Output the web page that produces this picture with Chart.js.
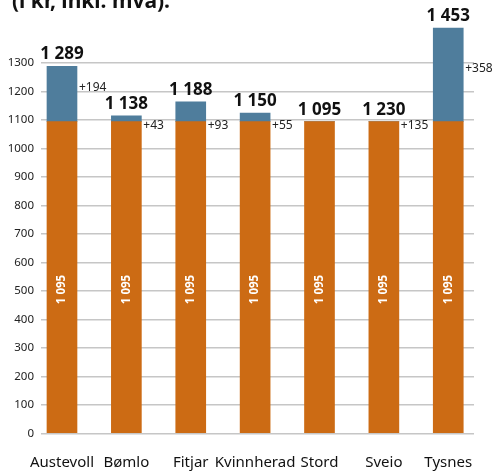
<!DOCTYPE html>
<html>
<head>
<meta charset="utf-8">
<script src="https://cdn.jsdelivr.net/npm/chart.js@4.4.1/dist/chart.umd.min.js"></script>
<style>
  html, body { margin: 0; padding: 0; background: #fff; }
  #wrap { position: relative; width: 492px; height: 471px; }
</style>
</head>
<body>
<div id="wrap"><canvas id="c" width="492" height="471"></canvas></div>
<script>
const categories = ['Austevoll', 'Bømlo', 'Fitjar', 'Kvinnherad', 'Stord', 'Sveio', 'Tysnes'];
const baseValues = [1095, 1095, 1095, 1095, 1095, 1095, 1095];
const extraBarValues = [194, 20, 69, 30, 0, 0, 328];
const totalLabels = [1289, 1138, 1188, 1150, 1095, 1230, 1453];
const increaseLabels = [194, 43, 93, 55, null, 135, 358];
const yTickValues = [0, 100, 200, 300, 400, 500, 600, 700, 800, 900, 1000, 1100, 1200, 1300];
const titleText = '(i kr, inkl. mva):';

const FONT = '"Noto Sans", "Open Sans", sans-serif';
const ORANGE = '#CC6B14';
const BLUE = '#4F7D9C';

function fmt(n) {
  return String(n).replace(/\B(?=(\d{3})+(?!\d))/g, ' ');
}

const labelPlugin = {
  id: 'labels',
  afterDatasetsDraw(chart) {
    const ctx = chart.ctx;
    const xs = chart.scales.x, ys = chart.scales.y;
    ctx.save();
    categories.forEach((c, i) => {
      const cx = xs.getPixelForValue(i);
      const baseTop = ys.getPixelForValue(baseValues[i]);
      const zero = ys.getPixelForValue(0);
      const top = ys.getPixelForValue(baseValues[i] + extraBarValues[i]);
      ctx.fillStyle = '#111';
      ctx.font = 'bold 17px ' + FONT;
      ctx.textAlign = 'center';
      ctx.textBaseline = 'alphabetic';
      ctx.fillText(fmt(totalLabels[i]), cx, top - 7);
      if (increaseLabels[i] !== null) {
        const seg = baseTop - top;
        const y = seg > 20 ? (top + baseTop) / 2 - 6 : baseTop + 4;
        ctx.font = '12px ' + FONT;
        ctx.fillStyle = '#222';
        ctx.textAlign = 'left';
        ctx.textBaseline = 'middle';
        ctx.fillText('+' + increaseLabels[i], cx + 17, y);
      }
      ctx.save();
      ctx.translate(cx, (baseTop + zero) / 2 + 12);
      ctx.rotate(-Math.PI / 2);
      ctx.font = 'bold 11.5px ' + FONT;
      ctx.fillStyle = '#fff';
      ctx.textAlign = 'center';
      ctx.textBaseline = 'middle';
      ctx.fillText(fmt(baseValues[i]), 0, 0);
      ctx.restore();
    });
    ctx.font = 'bold 21px ' + FONT;
    ctx.fillStyle = '#111';
    ctx.textAlign = 'left';
    ctx.textBaseline = 'alphabetic';
    ctx.fillText(titleText, 12, 8);
    ctx.restore();
  }
};

new Chart(document.getElementById('c'), {
  type: 'bar',
  data: {
    datasets: [
      {
        label: 'base',
        data: baseValues.map((v, i) => ({ x: i, y: v })),
        backgroundColor: ORANGE,
        barThickness: 30
      },
      {
        label: 'extra',
        data: extraBarValues.map((v, i) => ({ x: i, y: v })),
        backgroundColor: BLUE,
        barThickness: 30
      }
    ]
  },
  options: {
    responsive: false,
    animation: false,
    devicePixelRatio: 1,
    layout: { padding: { left: 0, right: 18, top: 7, bottom: 0 } },
    plugins: { legend: { display: false }, tooltip: { enabled: false }, title: { display: false } },
    scales: {
      x: {
        type: 'linear',
        stacked: true,
        offset: false,
        min: -0.326,
        max: 6.4,
        afterBuildTicks(s) { s.ticks = categories.map((_, i) => ({ value: i })); },
        afterFit(s) { s.height = 37.5; },
        grid: { display: false, offset: false },
        border: { display: false },
        ticks: {
          autoSkip: false,
          maxRotation: 0,
          padding: 12,
          color: '#111',
          font: { family: FONT, size: 15 },
          callback: (v) => categories[v] ?? ''
        }
      },
      y: {
        stacked: true,
        min: 0,
        max: 1473,
        afterBuildTicks(s) { s.ticks = yTickValues.map(v => ({ value: v })); },
        afterFit(s) { s.width = 41; },
        grid: { color: '#c6c6c6', lineWidth: 1.5, drawTicks: false },
        border: { display: false },
        ticks: {
          padding: 7,
          color: '#222',
          font: { family: FONT, size: 11.5 },
          callback: (v) => String(v)
        }
      }
    }
  },
  plugins: [labelPlugin]
});
</script>
</body>
</html>
